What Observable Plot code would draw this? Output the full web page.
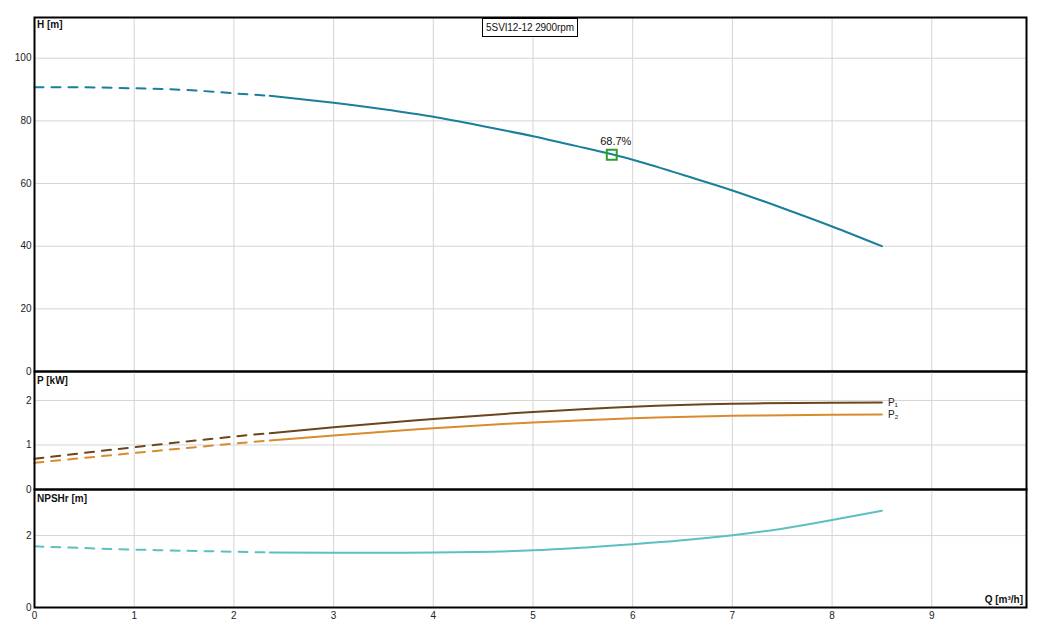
<!DOCTYPE html>
<html>
<head>
<meta charset="utf-8">
<script src="https://cdn.jsdelivr.net/npm/d3@7"></script>
<script src="https://cdn.jsdelivr.net/npm/@observablehq/plot@0.6"></script>
<style>
  body { margin: 0; background: #fff; font-family: "Liberation Sans", Arial, sans-serif; }
  #wrap { position: relative; width: 1055px; height: 632px; overflow: hidden; }
  #wrap svg { position: absolute; left: 0; overflow: visible; }
  .lbl { position: absolute; font-size: 10px; font-weight: bold; color: #111; white-space: nowrap; }
  #title { position: absolute; left: 482px; top: 18px; width: 94px; height: 17px; border: 1px solid #000;
           background: #fff; font-size: 10px; text-align: center; line-height: 17px; color: #111;
           white-space: nowrap; letter-spacing: -0.1px; }
</style>
</head>
<body>
<div id="wrap"></div>
<script>
// ---- data ----
const qTicks = [0, 1, 2, 3, 4, 5, 6, 7, 8, 9];
const hTicks = [0, 20, 40, 60, 80, 100];
const pTicks = [0, 1, 2];
const nTicks = [0, 2];

// head curve H [m]
const qDash = [0, 0.5, 1, 1.5, 2, 2.36];
const hDash = [90.7, 90.7, 90.4, 89.9, 88.8, 88.0];
const qSolid = [2.36, 3, 3.5, 4, 4.5, 5, 5.5, 6, 6.5, 7, 7.5, 8, 8.5];
const hSolid = [88.0, 85.8, 83.7, 81.3, 78.3, 75.1, 71.5, 67.6, 62.8, 57.8, 52.2, 46.3, 40.0];

// best efficiency point
const bepQ = [5.79];
const bepH = [69.2];
const bepLabel = ["68.7%"];

// power P1 / P2 [kW]
const qPDash = [0, 1, 2, 2.36];
const p1Dash = [0.69, 0.95, 1.19, 1.265];
const p2Dash = [0.60, 0.82, 1.03, 1.10];
const qPSolid = [2.36, 3, 4, 5, 6, 7, 8, 8.5];
const p1Solid = [1.265, 1.40, 1.585, 1.74, 1.86, 1.925, 1.95, 1.955];
const p2Solid = [1.10, 1.215, 1.375, 1.505, 1.60, 1.655, 1.68, 1.685];

// NPSHr [m]
const qNDash = [0, 1, 2, 2.36];
const nDash = [1.70, 1.61, 1.55, 1.53];
const qNSolid = [2.36, 3, 4, 5, 6, 6.5, 7, 7.5, 8, 8.5];
const nSolid = [1.53, 1.52, 1.53, 1.59, 1.76, 1.87, 2.01, 2.19, 2.43, 2.69];

const title = "5SVI12-12 2900rpm";

// ---- helpers ----
const pts = (xs, ys) => xs.map((x, i) => ({x, y: ys[i]}));
const W = 1055, ML = 34, MR = 29;
const xDomain = [0, 9.95];
const gridColor = "#d4d4d4";
const font = {fontFamily: "'Liberation Sans', Arial, sans-serif", fontSize: "10px", color: "#222", overflow: "visible"};
const cH = "#1a7f9c", cP1 = "#6b451c", cP2 = "#d98b2e", cN = "#5dbfc0";
const fmt = d3.format("d");
const wrap = document.getElementById("wrap");

function place(svg, top) { svg.style.top = top + "px"; wrap.appendChild(svg); }

// ---- H panel ----
const hPlot = Plot.plot({
  width: W, height: 371, marginLeft: ML, marginRight: MR, marginTop: 17, marginBottom: 0,
  style: font,
  x: {domain: xDomain, axis: null},
  y: {domain: [0, 113], ticks: hTicks, tickFormat: fmt, tickSize: 0, tickPadding: 3, label: null},
  marks: [
    Plot.ruleX(qTicks.filter(d => d > 0), {stroke: gridColor}),
    Plot.ruleY(hTicks.filter(d => d > 0), {stroke: gridColor}),
    Plot.line(pts(qDash, hDash), {x: "x", y: "y", stroke: cH, strokeWidth: 2, strokeDasharray: "9,8", curve: "natural"}),
    Plot.line(pts(qSolid, hSolid), {x: "x", y: "y", stroke: cH, strokeWidth: 2, curve: "natural"}),
    Plot.dot(pts(bepQ, bepH), {x: "x", y: "y", symbol: "square", r: 5.6, stroke: "#2e9e2e", strokeWidth: 2, fill: "none"}),
    Plot.text(bepQ.map((q, i) => ({x: q, y: bepH[i], t: bepLabel[i]})), {x: "x", y: "y", text: "t", dy: -13, dx: 4, fontSize: 11, fill: "#111"}),
    Plot.frame({stroke: "#000", strokeWidth: 2})
  ]
});
place(hPlot, 0);

// ---- P panel ----
const pPlot = Plot.plot({
  width: W, height: 118, marginLeft: ML, marginRight: MR, marginTop: 0, marginBottom: 0,
  style: font,
  x: {domain: xDomain, axis: null},
  y: {domain: [0, 2.65], ticks: pTicks, tickFormat: fmt, tickSize: 0, tickPadding: 3, label: null},
  marks: [
    Plot.ruleX(qTicks.filter(d => d > 0), {stroke: gridColor}),
    Plot.ruleY(pTicks.filter(d => d > 0), {stroke: gridColor}),
    Plot.line(pts(qPDash, p1Dash), {x: "x", y: "y", stroke: cP1, strokeWidth: 2, strokeDasharray: "9,8", curve: "natural"}),
    Plot.line(pts(qPDash, p2Dash), {x: "x", y: "y", stroke: cP2, strokeWidth: 2, strokeDasharray: "9,8", curve: "natural"}),
    Plot.line(pts(qPSolid, p1Solid), {x: "x", y: "y", stroke: cP1, strokeWidth: 2, curve: "natural"}),
    Plot.line(pts(qPSolid, p2Solid), {x: "x", y: "y", stroke: cP2, strokeWidth: 2, curve: "natural"}),
    Plot.text([{x: qPSolid[qPSolid.length - 1], y: p1Solid[p1Solid.length - 1], t: "P₁"}], {x: "x", y: "y", text: "t", dx: 6, textAnchor: "start", fontSize: 10, fill: "#222"}),
    Plot.text([{x: qPSolid[qPSolid.length - 1], y: p2Solid[p2Solid.length - 1], t: "P₂"}], {x: "x", y: "y", text: "t", dx: 6, textAnchor: "start", fontSize: 10, fill: "#222"}),
    Plot.frame({stroke: "#000", strokeWidth: 2})
  ]
});
place(pPlot, 371);

// ---- NPSH panel ----
const nPlot = Plot.plot({
  width: W, height: 143, marginLeft: ML, marginRight: MR, marginTop: 0, marginBottom: 25,
  style: font,
  x: {domain: xDomain, ticks: qTicks, tickFormat: fmt, tickSize: 0, tickPadding: 4, label: null},
  y: {domain: [0, 3.28], ticks: nTicks, tickFormat: fmt, tickSize: 0, tickPadding: 3, label: null},
  marks: [
    Plot.ruleX(qTicks.filter(d => d > 0), {stroke: gridColor}),
    Plot.ruleY(nTicks.filter(d => d > 0), {stroke: gridColor}),
    Plot.line(pts(qNDash, nDash), {x: "x", y: "y", stroke: cN, strokeWidth: 2, strokeDasharray: "9,8", curve: "natural"}),
    Plot.line(pts(qNSolid, nSolid), {x: "x", y: "y", stroke: cN, strokeWidth: 2, curve: "natural"}),
    Plot.frame({stroke: "#000", strokeWidth: 2})
  ]
});
place(nPlot, 489);

// ---- labels ----
function addLabel(text, css) {
  const d = document.createElement("div");
  d.className = "lbl"; d.textContent = text;
  Object.assign(d.style, css);
  wrap.appendChild(d);
}
addLabel("H [m]", {left: "37px", top: "19px"});
addLabel("P [kW]", {left: "37px", top: "375px"});
addLabel("NPSHr [m]", {left: "37px", top: "493px"});
addLabel("Q [m³/h]", {right: "32px", top: "594px"});
const t = document.createElement("div");
t.id = "title"; t.textContent = title;
wrap.appendChild(t);
</script>
</body>
</html>
